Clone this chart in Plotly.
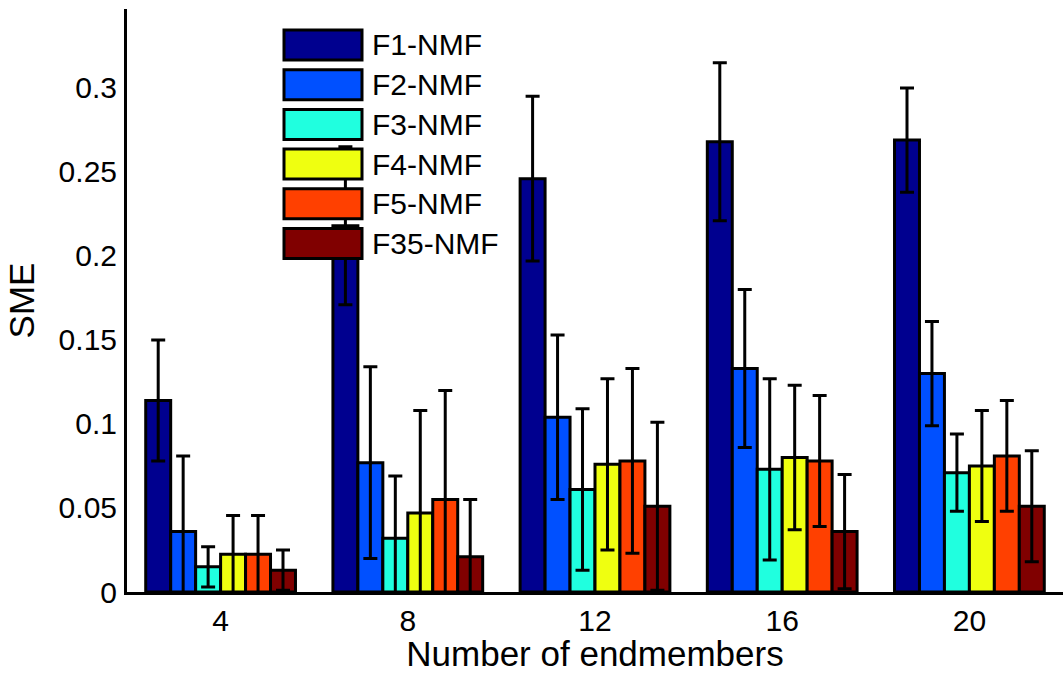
import plotly.graph_objects as go

# ---------------- data ----------------
categories = ["4", "8", "12", "16", "20"]
series_names = ["F1-NMF", "F2-NMF", "F3-NMF", "F4-NMF", "F5-NMF", "F35-NMF"]

f1_vals = [0.114, 0.218, 0.246, 0.268, 0.269]
f1_errs = [0.036, 0.047, 0.049, 0.047, 0.031]
f2_vals = [0.036, 0.077, 0.104, 0.133, 0.130]
f2_errs = [0.045, 0.057, 0.049, 0.047, 0.031]
f3_vals = [0.015, 0.032, 0.061, 0.073, 0.071]
f3_errs = [0.012, 0.037, 0.048, 0.054, 0.023]
f4_vals = [0.0225, 0.047, 0.076, 0.080, 0.075]
f4_errs = [0.023, 0.061, 0.051, 0.043, 0.033]
f5_vals = [0.0225, 0.055, 0.078, 0.078, 0.081]
f5_errs = [0.023, 0.065, 0.055, 0.039, 0.033]
f35_vals = [0.013, 0.021, 0.051, 0.036, 0.051]
f35_errs = [0.012, 0.034, 0.050, 0.034, 0.033]

y_tick_vals = [0, 0.05, 0.1, 0.15, 0.2, 0.25, 0.3]
y_tick_text = ["0", "0.05", "0.1", "0.15", "0.2", "0.25", "0.3"]

colors = ["#00008F", "#0050FF", "#20FFDF", "#EFFF10", "#FF4000", "#800000"]

all_vals = [f1_vals, f2_vals, f3_vals, f4_vals, f5_vals, f35_vals]
all_errs = [f1_errs, f2_errs, f3_errs, f4_errs, f5_errs, f35_errs]

# ---------------- layout constants ----------------
W, H = 1063, 673
ML, MR, MT, MB = 127, 0, 9, 81
FONT = "Liberation Sans, Arial, Helvetica, sans-serif"
TICK_SIZE = 30
TITLE_SIZE = 35

fig = go.Figure()
for name, vals, errs, col in zip(series_names, all_vals, all_errs, colors):
    fig.add_trace(go.Bar(
        x=categories, y=vals, name=name,
        marker=dict(color=col, line=dict(color="black", width=3)),
        error_y=dict(type="data", array=errs, visible=True,
                     color="black", thickness=3, width=7),
        showlegend=False,
    ))

# custom legend (large swatches, transparent background, like the original)
pw = W - ML - MR
ph = H - MT - MB


def px_to_paper_x(px):
    return (px - ML) / pw


def py_to_paper_y(py):
    return (H - MB - py) / ph


sw_x0, sw_x1 = 284, 362
sw_h = 30
row0, row_step = 45, 39.7
shapes = []
annotations = []
for i, (name, col) in enumerate(zip(series_names, colors)):
    cy = row0 + i * row_step
    shapes.append(dict(
        type="rect", xref="paper", yref="paper", layer="above",
        x0=px_to_paper_x(sw_x0), x1=px_to_paper_x(sw_x1),
        y0=py_to_paper_y(cy + sw_h / 2), y1=py_to_paper_y(cy - sw_h / 2),
        fillcolor=col, line=dict(color="black", width=3),
    ))
    annotations.append(dict(
        xref="paper", yref="paper", x=px_to_paper_x(370), y=py_to_paper_y(cy),
        xanchor="left", yanchor="middle", text=name, showarrow=False,
        font=dict(family=FONT, size=TICK_SIZE, color="black"),
    ))

fig.update_layout(
    width=W, height=H,
    margin=dict(l=ML, r=MR, t=MT, b=MB, pad=0),
    paper_bgcolor="white", plot_bgcolor="white",
    barmode="group", bargap=0.2, bargroupgap=0,
    font=dict(family=FONT, size=TICK_SIZE, color="black"),
    shapes=shapes, annotations=annotations,
    showlegend=False,
)
fig.update_xaxes(
    type="category", range=[-0.5, 4.5],
    showline=True, linecolor="black", linewidth=3, mirror=False,
    showgrid=False, zeroline=False, ticks="",
    tickfont=dict(family=FONT, size=TICK_SIZE, color="black"),
    ticklabelstandoff=0,
    title=dict(text="Number of endmembers", font=dict(family=FONT, size=TITLE_SIZE, color="black"), standoff=3),
    automargin=False,
)
fig.update_yaxes(
    range=[0, 0.347],
    tickvals=y_tick_vals, ticktext=y_tick_text,
    showline=True, linecolor="black", linewidth=3, mirror=False,
    showgrid=False, zeroline=False, ticks="",
    tickfont=dict(family=FONT, size=TICK_SIZE, color="black"),
    ticklabelstandoff=1,
    title=dict(text="SME", font=dict(family=FONT, size=TITLE_SIZE, color="black"), standoff=14),
    automargin=False,
)

fig.write_html(
    "out.html",
    config={"displayModeBar": False},
    post_script="document.body.style.margin='0';document.body.style.padding='0';",
)
